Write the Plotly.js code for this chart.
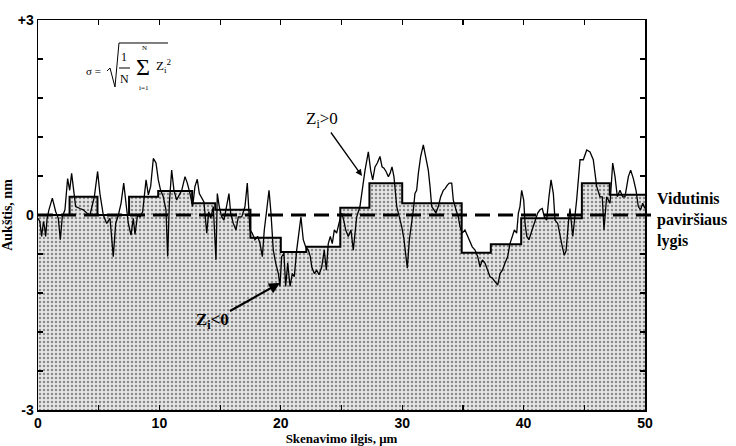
<!DOCTYPE html>
<html>
<head>
<meta charset="utf-8">
<script src="https://cdn.plot.ly/plotly-3.0.1.min.js"></script>
<style>html,body{margin:0;padding:0;background:#fff;}#chart{width:736px;height:446px;}</style>
</head>
<body>
<div id="chart"></div>
<script>
// Surface profile (scan length, µm) and height (nm)
const profileX = [0,0.15,0.3,0.45,0.55,0.63,0.75,0.9,1.18,1.46,1.67,1.84,2.0,2.22,2.44,2.61,2.77,2.94,3.1,3.46,3.73,4.01,4.28,4.64,4.91,5.1,5.38,5.66,5.93,6.2,6.4,6.62,6.84,7.06,7.22,7.44,7.66,7.85,7.99,8.2,
 8.4,8.62,8.9,9.09,9.28,9.5,9.72,9.91,10.1,10.32,10.54,10.68,10.82,11.01,11.2,11.42,11.64,11.84,12.11,12.3,12.52,12.74,12.93,13.12,13.29,13.48,13.67,13.9,14.06,14.23,14.44,14.66,14.77,14.93,15.13,15.32,15.54,15.73,15.87,16.09,16.31,16.5,16.78,17.05,17.24,
 17.46,17.65,17.87,18.1,18.29,18.48,18.64,18.84,19.03,19.19,19.38,19.58,19.8,19.93,20.07,20.26,20.4,20.57,20.76,20.95,21.11,21.31,21.5,21.66,21.85,22.05,22.27,22.43,22.55,22.76,22.96,23.15,23.37,23.58,23.75,23.91,24.08,24.24,24.41,24.6,24.79,25.02,25.18,25.35,25.56,25.78,25.97,
 26.25,26.52,26.75,26.94,27.21,27.4,27.57,27.76,27.95,28.17,28.34,28.5,28.67,28.86,29.0,29.16,29.32,29.55,29.76,29.96,30.15,30.31,30.42,30.59,30.75,30.92,31.05,31.19,31.33,31.52,31.74,31.96,32.15,32.29,32.43,32.62,32.78,32.97,33.17,33.39,33.55,33.72,33.88,34.08,34.21,34.43,34.62,
 34.76,34.95,35.17,35.4,35.58,35.77,36.0,36.22,36.41,36.6,36.82,37.04,37.23,37.42,37.64,37.87,38.06,38.25,38.47,38.69,38.88,39.07,39.24,39.43,39.57,39.7,39.84,40.01,40.12,40.26,40.44,40.61,40.8,41.0,41.16,41.35,41.54,41.71,41.9,42.09,42.26,42.45,42.59,42.81,43.0,43.19,43.35,
 43.5,43.7,43.82,44.05,44.37,44.65,44.92,45.2,45.47,45.74,46.02,46.29,46.48,46.62,46.84,47.12,47.34,47.53,47.72,47.94,48.16,48.35,48.63,48.82,49.04,49.26,49.45,49.64,49.81,50];
const profileY = [-0.05,-0.1,-0.33,-0.1,-0.2,-0.33,-0.05,0.08,0.26,0.05,-0.05,-0.38,-0.03,0.08,0.56,0.38,0.64,0.33,0.13,0.1,0.08,0.03,0,0.28,0.67,0.33,0,-0.13,-0.05,-0.64,-0.13,0,0.18,0.49,0.18,-0.13,-0.31,-0.05,-0.3,0.0,
 -0.03,0.05,0.54,0.31,0.44,0.87,0.8,0.54,0.38,0.28,0.08,-0.64,0.18,0.69,0.38,0.23,0.31,0.38,0.59,0.49,0.33,0.13,0.44,0.55,0.33,0.26,0.2,-0.28,0.05,-0.05,0.13,-0.69,0.33,0.13,-0.03,-0.08,0.13,0.33,0.03,-0.13,-0.23,-0.03,-0.03,0.13,0.49,
 -0.23,-0.28,-0.38,-0.33,-0.44,-0.64,-0.23,0.08,0.38,0.03,-0.54,-0.74,-0.9,-1.1,-0.64,-0.59,-1.1,-0.74,-1.1,-0.9,-0.95,-0.54,-0.23,-0.03,-0.38,-0.49,-0.54,-0.64,-0.8,-0.9,-0.85,-0.92,-0.8,-0.54,-0.85,-0.44,-0.33,-0.44,-0.23,-0.28,-0.13,0.03,-0.08,-0.23,-0.33,-0.23,-0.54,
 -0.03,0.13,0.49,0.69,0.97,0.69,0.54,0.74,0.8,0.9,0.74,0.72,0.67,0.59,0.64,0.74,0.59,0.13,-0.03,-0.18,-0.38,-0.64,-0.82,-0.38,-0.18,0.08,0.33,0.38,0.64,0.9,1.08,0.85,0.69,0.44,0.13,0.08,0.03,0.13,0.28,0.38,0.41,0.46,0.49,0.49,0.23,0.08,-0.03,
 -0.18,-0.28,-0.23,-0.33,-0.38,-0.49,-0.54,-0.64,-0.8,-0.69,-0.74,-0.85,-0.95,-0.97,-1.03,-1.08,-0.9,-0.85,-0.74,-0.64,-0.44,-0.33,-0.23,-0.28,0.03,0.13,0.38,0.23,-0.13,-0.33,-0.38,-0.28,-0.18,-0.08,0.03,0.08,0.1,-0.03,-0.08,0.28,0.54,0.33,-0.08,-0.13,-0.33,-0.49,-0.62,
 -0.55,-0.1,0.1,-0.33,0.23,0.85,0.85,1.0,0.97,0.85,0.44,0.28,0.28,-0.23,0.28,0.18,0.8,0.59,0.28,0.38,0.28,0.28,0.59,0.69,0.56,0.38,0.13,0.08,0.18,0.1];

// Mean-level segments (step line)
const stepX = [0,2.6,4.9,7.5,9.9,12.7,14.6,17.5,20.0,22.1,24.9,27.3,30.0,34.9,37.3,39.8,44.8,47.1,50];
const stepY = [0,0.28,0,0.28,0.37,0.18,0.08,-0.35,-0.57,-0.49,0.11,0.49,0.18,-0.58,-0.45,-0.05,0.49,0.31,0.31];

// Ticks
const xTicks = [0,10,20,30,40,50];
const xMinorTicks = [5,15,25,35,45];
const yTicks = [-3,0,3];
const yTickText = ['-3','0','+3'];
const yMinorTicks = [-2.4,-1.8,-1.2,-0.6,0.6,1.2,1.8,2.4];

// plot area in pixels
const L = 38, R = 645, T = 20, B = 410;
const P = (px, py) => ({x: (px - L) / (R - L), y: (B - py) / (B - T)});

const serif = 'Liberation Serif, Times New Roman, serif';
const sans = 'Liberation Sans Narrow, Liberation Sans, Arial, sans-serif';

const traces = [
  {x: [0, 50], y: [-3, -3], mode: 'lines', line: {width: 0, color: 'rgba(0,0,0,0)'}, hoverinfo: 'skip', showlegend: false},
  {x: stepX, y: stepY, mode: 'lines', line: {shape: 'hv', color: '#000', width: 2}, fill: 'tonexty',
   fillcolor: '#d6d6d6',
   fillpattern: {shape: '.', bgcolor: '#e6e6e6', fgcolor: '#8a8a8a', size: 4, solidity: 0.3},
   showlegend: false},
  {x: profileX, y: profileY, mode: 'lines', line: {color: '#000', width: 1.3}, showlegend: false},
  // carrier for the mirrored (top/right) tick axes
  {x: [0], y: [0], xaxis: 'x2', yaxis: 'y2', mode: 'none', hoverinfo: 'skip', showlegend: false}
];

function ann(px, py, text, size, opts) {
  const p = P(px, py);
  return Object.assign({xref: 'paper', yref: 'paper', x: p.x, y: p.y, text: text, showarrow: false,
    font: {family: serif, size: size, color: '#000'}, xanchor: 'center', yanchor: 'middle'}, opts || {});
}
function pathFromPx(pts) {
  return pts.map((q, i) => { const p = P(q[0], q[1]); return (i ? 'L' : 'M') + p.x.toFixed(5) + ',' + p.y.toFixed(5); }).join(' ');
}

const zPos = P(362, 176), zNeg = P(280, 283);

const annotations = [
  // formula
  ann(93, 71, 'σ =', 11),
  ann(124, 57, '1', 12),
  ann(124, 79, 'N', 12),
  ann(143, 67, 'Σ', 24),
  ann(144, 48, 'N', 7),
  ann(144, 88, 'i=1', 7),
  ann(163, 66, 'Z<sub>i</sub><sup>2</sup>', 13),
  // labels with arrows
  {xref: 'paper', yref: 'paper', x: zPos.x, y: zPos.y, ax: -40, ay: -56, text: 'Z<sub>i</sub>&gt;0',
   showarrow: true, arrowhead: 2, arrowsize: 1, arrowwidth: 1.3, arrowcolor: '#000',
   font: {family: serif, size: 17, color: '#000'}},
  {xref: 'paper', yref: 'paper', x: zNeg.x, y: zNeg.y, ax: -68, ay: 38, text: '<b>Z<sub>i</sub>&lt;0</b>',
   showarrow: true, arrowhead: 2, arrowsize: 1, arrowwidth: 2.2, arrowcolor: '#000',
   font: {family: serif, size: 17, color: '#000'}},
  // right label
  ann(655, 220, '<b>Vidutinis<br>paviršiaus<br>lygis</b>', 16, {xanchor: 'left', align: 'left'})
];

const shapes = [
  {type: 'line', xref: 'paper', yref: 'y', x0: 0, x1: 1.012, y0: 0, y1: 0,
   line: {color: '#000', width: 3, dash: '15px,8px'}, layer: 'above'},
  {type: 'path', xref: 'paper', yref: 'paper', path: pathFromPx([[107,71],[110,68],[115,87],[119,43],[168,43]]),
   line: {color: '#000', width: 1}},
  {type: 'line', xref: 'paper', yref: 'paper', x0: P(119,0).x, x1: P(130,0).x, y0: P(0,68).y, y1: P(0,68).y,
   line: {color: '#000', width: 1}}
];

const tickStyle = {ticks: 'inside', ticklen: 5, tickwidth: 1.2, tickcolor: '#000'};
const lineStyle = {showgrid: false, zeroline: false, showline: true, linecolor: '#000', linewidth: 1.5};

const layout = {
  width: 736, height: 446,
  margin: {l: L, r: 736 - R, t: T, b: 446 - B},
  paper_bgcolor: '#fff', plot_bgcolor: '#fff',
  showlegend: false,
  xaxis: Object.assign({range: [0, 50], tickvals: xTicks, ticktext: xTicks.map(String),
    minor: Object.assign({tickvals: xMinorTicks}, tickStyle),
    tickfont: {family: sans, size: 14, color: '#000', weight: 'bold'},
    title: {text: '<b>Skenavimo ilgis, μm</b>', font: {family: serif, size: 13, color: '#000'}, standoff: 2}},
    lineStyle, tickStyle),
  yaxis: Object.assign({range: [-3, 3], tickvals: yTicks, ticktext: yTickText,
    minor: Object.assign({tickvals: yMinorTicks}, tickStyle),
    tickfont: {family: sans, size: 14, color: '#000', weight: 'bold'},
    title: {text: '<b>Aukštis, nm</b>', font: {family: serif, size: 14, color: '#000'}, standoff: 2}},
    lineStyle, tickStyle),
  xaxis2: Object.assign({range: [0, 50], overlaying: 'x', side: 'top', anchor: 'y2', showticklabels: false,
    tickvals: xTicks.concat(xMinorTicks)}, lineStyle, tickStyle),
  yaxis2: Object.assign({range: [-3, 3], overlaying: 'y', side: 'right', anchor: 'x2', showticklabels: false,
    tickvals: yTicks.concat(yMinorTicks)}, lineStyle, tickStyle),
  annotations: annotations,
  shapes: shapes
};

Plotly.newPlot('chart', traces, layout, {displayModeBar: false, staticPlot: true});
</script>
</body>
</html>
